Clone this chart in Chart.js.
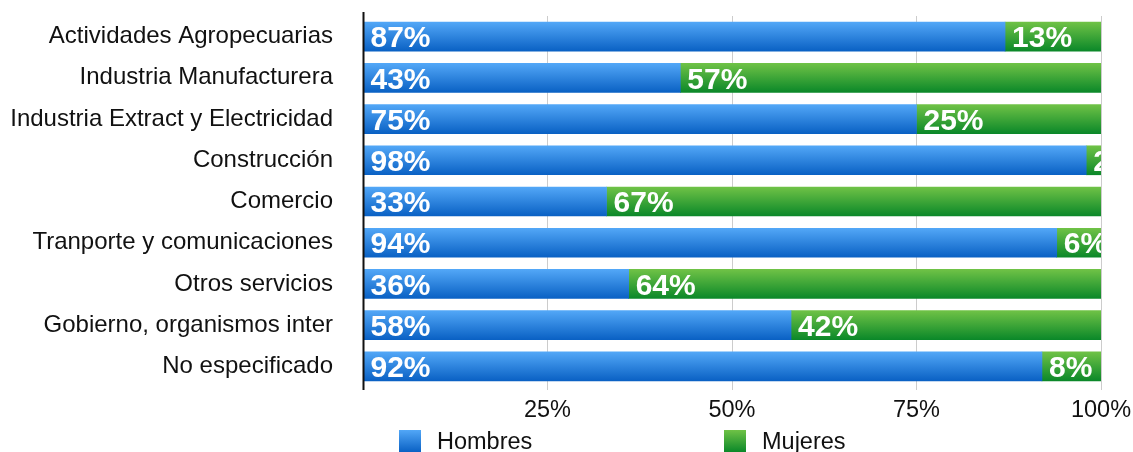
<!DOCTYPE html>
<html>
<head>
<meta charset="utf-8">
<script src="https://cdn.jsdelivr.net/npm/chart.js@4"></script>
<style>
  html, body { margin: 0; padding: 0; background: #fff; }
  #wrap { width: 1133px; height: 452px; position: relative; }
</style>
</head>
<body>
<div id="wrap"><canvas id="sectorChart"></canvas></div>
<script>
const sectores = [
    'Actividades Agropecuarias',
    'Industria Manufacturera',
    'Industria Extract y Electricidad',
    'Construcción',
    'Comercio',
    'Tranporte y comunicaciones',
    'Otros servicios',
    'Gobierno, organismos inter',
    'No especificado'
];
const hombres = [87, 43, 75, 98, 33, 94, 36, 58, 92];
const mujeres = [13, 57, 25, 2, 67, 6, 64, 42, 8];
const xTicks = [0, 25, 50, 75, 100];

const FONT = 'Arial, "Liberation Sans", sans-serif';
const BAR_H = 29;

// vertical gradient per bar, positioned on the category's pixel
function barFill(top, bottom) {
    return function(ctx) {
        const chart = ctx.chart;
        if (!chart.chartArea || ctx.dataIndex === undefined || !chart.scales.y) return bottom;
        const y = chart.scales.y.getPixelForValue(ctx.dataIndex);
        const g = chart.ctx.createLinearGradient(0, y - BAR_H / 2, 0, y + BAR_H / 2);
        g.addColorStop(0, top);
        g.addColorStop(1, bottom);
        return g;
    };
}

const series = [
    { label: 'Hombres', data: hombres, top: '#52a7f7', bottom: '#0a61c4' },
    { label: 'Mujeres', data: mujeres, top: '#6fc246', bottom: '#0b8829' }
];

const valueLabels = {
    id: 'valueLabels',
    afterDatasetsDraw(chart) {
        const ctx = chart.ctx;
        const area = chart.chartArea;
        ctx.save();
        ctx.beginPath();
        ctx.rect(area.left, area.top - 20, area.right - area.left, area.bottom - area.top + 40);
        ctx.clip();
        ctx.font = 'bold 30px ' + FONT;
        ctx.fillStyle = '#ffffff';
        ctx.textAlign = 'left';
        ctx.textBaseline = 'alphabetic';
        chart.data.datasets.forEach(function(ds, di) {
            const meta = chart.getDatasetMeta(di);
            meta.data.forEach(function(bar, i) {
                const start = Math.min(bar.base, bar.x);
                ctx.fillText(ds.data[i] + '%', start + 7, bar.y + 10.7);
            });
        });
        ctx.restore();
    }
};

const axisAndLegend = {
    id: 'axisAndLegend',
    afterDraw(chart) {
        const ctx = chart.ctx;
        const area = chart.chartArea;
        ctx.save();
        // left axis line
        ctx.strokeStyle = '#111111';
        ctx.lineWidth = 2;
        ctx.beginPath();
        ctx.moveTo(area.left + 0.5, area.top - 4);
        ctx.lineTo(area.left + 0.5, area.bottom + 3);
        ctx.stroke();

        // legend
        const offsets = [36, 361];
        ctx.font = '23.5px ' + FONT;
        ctx.textBaseline = 'alphabetic';
        ctx.textAlign = 'left';
        series.forEach(function(s, i) {
            const x = area.left + offsets[i];
            const y = 430;
            const g = ctx.createLinearGradient(0, y, 0, y + 22);
            g.addColorStop(0, s.top);
            g.addColorStop(1, s.bottom);
            ctx.fillStyle = g;
            ctx.fillRect(x, y, 22, 22);
            ctx.fillStyle = '#111111';
            ctx.fillText(s.label, x + 38, 449);
        });
        ctx.restore();
    }
};

new Chart(document.getElementById('sectorChart'), {
    type: 'bar',
    data: {
        labels: sectores,
        datasets: series.map(function(s) {
            return {
                label: s.label,
                data: s.data,
                backgroundColor: barFill(s.top, s.bottom),
                borderWidth: 0,
                barThickness: BAR_H
            };
        })
    },
    options: {
        indexAxis: 'y',
        responsive: true,
        maintainAspectRatio: false,
        animation: false,
        layout: { padding: { left: 0, right: 32, top: 16, bottom: 0 } },
        plugins: {
            legend: { display: false },
            tooltip: { enabled: false }
        },
        scales: {
            x: {
                stacked: true,
                min: 0,
                max: 100,
                afterBuildTicks: function(scale) {
                    scale.ticks = xTicks.map(function(v) { return { value: v }; });
                },
                afterFit: function(scale) {
                    scale.height = 65;
                    scale.paddingLeft = 0;
                    scale.paddingRight = 0;
                },
                border: { display: false },
                grid: {
                    color: function(c) {
                        return c.tick && c.tick.value === 0 ? 'rgba(0,0,0,0)' : '#cccccc';
                    },
                    lineWidth: 1,
                    tickLength: 3
                },
                ticks: {
                    font: { family: FONT, size: 23.5 },
                    color: '#111111',
                    padding: 6,
                    maxRotation: 0,
                    callback: function(v) { return v === 0 ? '' : v + '%'; }
                }
            },
            y: {
                stacked: true,
                afterFit: function(scale) {
                    scale.width = 363;
                    scale.paddingTop = 0;
                    scale.paddingBottom = 0;
                },
                border: { display: false },
                grid: { display: false, drawTicks: false },
                ticks: {
                    font: { family: FONT, size: 24 },
                    color: '#111111',
                    padding: 30
                }
            }
        }
    },
    plugins: [valueLabels, axisAndLegend]
});
</script>
</body>
</html>
